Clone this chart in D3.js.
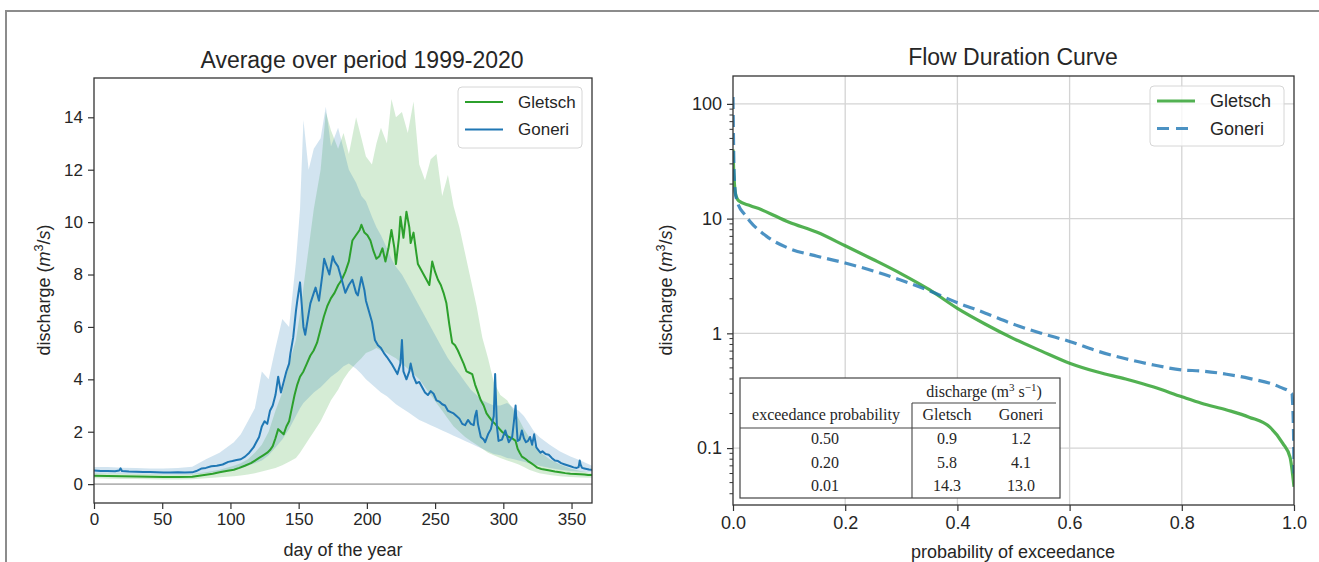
<!DOCTYPE html>
<html>
<head>
<meta charset="utf-8">
<script src="https://cdn.jsdelivr.net/npm/d3@7"></script>
<style>
  body { margin: 0; background: #fff; }
  svg { display: block; }
  text { font-family: "Liberation Sans", Arial, sans-serif; fill: #262626; }
</style>
</head>
<body>
<svg id="chart" width="1319" height="562"></svg>
<script>
// ---- left panel: daily mean discharge (day of year, m3/s) ----
const gletschDays = [0,10,20.5,31,41,51,61.5,72,77,82,87,92,97,102.5,106.5,110.5,115,118,121,124,127,129,131,133,135,137,139,141,143,145,147,149,151,153.5,156,158.5,161,163.5,166,168.5,171,173.7,176.3,179,181.6,184.2,186.8,189.4,192,194.7,196,198.2,200.4,202.6,204.8,207,209.2,211.4,213.6,215.8,218,220.2,221.3,223.5,224.6,226.8,229,231.1,232.1,234.2,236.3,237.4,239.5,241.6,243.7,245.8,247.9,250,252.1,254.2,256.2,258.3,260.4,262.5,264.6,266.7,268.8,270.9,273,275.1,277.2,279.3,281.4,283.5,285.6,287.7,289.8,291.9,294,296.5,299,301.5,304,306.5,309,310.5,312,313.6,315.1,316.6,318.1,320.4,322.6,324.9,327.9,331,334,337.8,341.6,345.4,349.2,353,356.6,359.4,362.2,365];
const gletschMean = [0.32,0.31,0.3,0.29,0.28,0.27,0.27,0.28,0.32,0.36,0.4,0.45,0.5,0.55,0.62,0.7,0.8,0.9,1.0,1.1,1.2,1.3,1.45,1.75,2.1,2.0,1.9,2.2,2.4,2.9,3.4,3.8,4.1,4.3,4.6,4.9,5.1,5.4,5.9,6.4,6.8,7.1,7.3,7.6,7.8,8.1,8.5,9.3,9.5,9.7,9.9,9.6,9.5,9.3,8.9,8.6,8.7,9.0,8.5,9.0,9.7,9.0,8.4,9.4,10.2,9.4,10.4,9.8,9.2,9.6,8.8,8.4,8.2,8.0,7.8,7.6,8.5,8.1,7.8,7.6,7.3,6.9,6.1,5.4,5.3,5.1,4.85,4.6,4.3,4.25,4.2,3.8,3.5,3.2,3.0,2.7,2.55,2.4,2.3,2.15,2.0,1.9,1.8,1.75,1.65,1.35,1.2,1.05,1.0,0.95,0.88,0.8,0.72,0.63,0.58,0.55,0.52,0.48,0.45,0.42,0.4,0.39,0.38,0.37,0.35,0.35];

const goneriDays = [0,5,10,15.4,18.5,19.5,20.5,25.6,31,36,41,46,51,56,61.5,66.6,72,75,79,82,86,90,94.3,98.4,101.5,104.5,107.6,110.7,113.8,116.9,118.9,121,123,125,127,129,131,133,135,137,139,141,143,144,146,148,149,151,153.5,154.8,157.3,158.6,161.1,162.4,164.9,167.4,168.7,171.2,172.5,175,176.3,178.9,181.6,184.2,186.8,189.4,192.1,193.4,196,198.2,199.3,201.5,203.7,205.9,208.1,210.3,212.5,214.7,218,220.2,222.4,224.6,225.7,226.8,229,231.1,232.1,234.2,236.3,238.4,240.5,242.6,244.7,246.8,248.9,251,253.1,255.2,257.3,259.4,261.5,263.6,265.7,267.8,269.9,272,274.1,276.2,278.3,279.3,280.4,281.4,283.5,285.6,286.7,288.8,290.9,293,294,295.3,296.5,299,301.5,304,306.5,307.8,309,309.8,310.5,312,313.6,315.1,316.6,318.1,319.6,321.1,322.6,324.2,325.7,327.2,328.7,331,333.3,335.5,337.8,340.1,342.4,344.6,346.9,349.2,351.5,353.8,355.2,356,356.6,357.7,359.4,361.1,362.8,364.4,365];
const goneriMean = [0.52,0.5,0.5,0.49,0.52,0.6,0.5,0.48,0.47,0.46,0.46,0.45,0.44,0.44,0.45,0.44,0.45,0.5,0.6,0.62,0.68,0.7,0.75,0.85,0.88,0.92,0.95,1.05,1.2,1.4,1.6,1.8,2.2,2.4,2.3,2.8,3.0,3.4,4.1,3.5,3.9,4.3,4.6,5.0,5.6,6.6,7.0,7.7,6.0,5.7,6.5,6.9,7.3,7.5,7.0,8.0,8.6,8.2,8.0,8.7,8.5,8.3,7.8,7.3,7.6,7.8,7.3,7.2,7.9,7.4,7.0,6.6,6.2,5.5,5.3,5.2,5.0,4.85,4.6,4.4,4.2,4.6,5.5,4.3,4.0,4.3,4.6,4.1,3.85,3.9,3.7,3.5,3.4,3.55,3.45,3.2,3.15,3.05,3.0,2.8,2.75,2.7,2.6,2.5,2.3,2.25,2.45,2.3,2.25,2.6,2.8,2.3,1.8,1.7,1.6,1.9,2.1,2.6,4.2,2.2,1.65,1.7,2.05,1.6,1.8,2.4,3.0,2.2,1.65,1.7,2.05,1.75,1.6,1.65,1.8,1.5,1.9,1.4,1.3,1.2,1.25,1.15,1.12,1.0,0.9,0.88,0.8,0.76,0.72,0.68,0.64,0.62,0.65,0.9,0.75,0.62,0.6,0.58,0.56,0.55,0.54];

// spread across years (shaded bands)
const bandDays = [0,10,20.5,31,41,51,61.5,72,82,92,102.5,107.6,112.8,117.9,123,128,133,138,143,148,151,153.5,157.3,161.1,166.1,169.9,173.7,178.9,182.9,186.8,192.1,196,199.3,203.7,207,210.3,214.7,218,221.3,225.7,230,234.2,238.4,242.6,246.8,251,255.2,259.4,263.6,267.8,272,276.2,280.4,284.6,288.8,293,297.8,302.8,307.8,311.3,315.1,318.9,322.6,326.4,334,341.6,349.2,356.6,365];
const gletschLow = [0.22,0.21,0.2,0.2,0.19,0.18,0.18,0.19,0.22,0.26,0.3,0.33,0.37,0.42,0.48,0.55,0.62,0.72,0.85,1.0,1.2,1.4,1.7,2.0,2.4,2.8,3.2,3.6,4.0,4.3,4.6,4.8,5.0,5.1,5.2,5.1,5.0,4.9,4.8,4.6,4.4,4.2,4.0,3.7,3.4,3.1,2.8,2.5,2.2,2.0,1.8,1.65,1.5,1.35,1.2,1.1,1.0,0.9,0.82,0.75,0.65,0.55,0.48,0.42,0.35,0.3,0.27,0.25,0.24];
const gletschHigh = [0.42,0.41,0.4,0.39,0.38,0.37,0.37,0.39,0.45,0.55,0.7,0.8,0.95,1.2,1.5,2.0,2.8,3.5,4.6,5.5,6.5,7.5,9.0,10.5,12.0,14.2,13.5,12.8,13.4,12.6,14.0,13.2,12.5,12.2,13.0,13.6,13.0,14.7,14.0,14.2,13.4,14.6,12.2,11.6,12.4,12.6,11.0,11.8,10.6,9.8,8.8,7.8,6.8,5.6,4.8,3.9,3.4,3.2,2.8,2.5,2.1,1.8,1.5,1.25,0.95,0.75,0.6,0.5,0.42];
const goneriLow = [0.4,0.4,0.39,0.38,0.37,0.36,0.36,0.37,0.42,0.48,0.55,0.6,0.7,0.8,0.9,1.1,1.4,1.7,2.1,2.6,2.9,3.1,3.3,3.5,3.7,3.9,4.1,4.3,4.5,4.6,4.4,4.2,4.0,3.8,3.65,3.5,3.35,3.2,3.05,2.9,2.75,2.6,2.45,2.35,2.25,2.15,2.05,1.95,1.85,1.75,1.65,1.55,1.45,1.35,1.25,1.15,1.1,1.0,0.95,0.9,0.85,0.8,0.75,0.7,0.62,0.55,0.5,0.47,0.44];
const goneriHigh = [0.65,0.65,0.63,0.62,0.6,0.6,0.62,0.66,0.95,1.2,1.6,1.9,2.4,2.9,4.3,4.0,5.2,6.3,6.0,8.5,10.5,13.9,12.0,12.8,13.2,14.4,12.9,13.6,12.8,12.0,11.5,11.0,10.8,10.2,9.8,9.5,9.0,8.6,8.3,8.0,7.6,7.2,6.8,6.4,6.0,5.6,5.2,4.8,4.5,4.2,3.9,3.6,3.4,3.2,3.1,3.0,3.0,3.1,2.9,2.8,2.6,2.3,2.0,1.8,1.5,1.25,1.05,0.9,0.7];

const dayTicks = [0,50,100,150,200,250,300,350];
const dischargeTicks = [0,2,4,6,8,10,12,14];

// ---- right panel: flow duration curves ----
const fdcProbGletsch = [0,0.001,0.002,0.004,0.006,0.01,0.03,0.05,0.1,0.15,0.2,0.25,0.3,0.35,0.4,0.45,0.5,0.55,0.6,0.65,0.7,0.75,0.8,0.835,0.88,0.92,0.957,0.98,0.993,1.0];
const fdcGletsch = [40,28,22,17,15.5,14.3,13.0,12.0,9.3,7.6,5.8,4.4,3.3,2.4,1.65,1.2,0.9,0.7,0.55,0.46,0.4,0.34,0.28,0.246,0.215,0.186,0.152,0.11,0.083,0.046];
const fdcProbGoneri = [0,0.001,0.002,0.004,0.006,0.01,0.02,0.03,0.06,0.1,0.15,0.2,0.25,0.3,0.35,0.4,0.45,0.5,0.55,0.6,0.65,0.7,0.75,0.8,0.835,0.88,0.92,0.975,0.996,0.999,1.0];
const fdcGoneri = [115,45,25,17,15,13.0,11.0,9.5,7.0,5.5,4.7,4.1,3.5,2.9,2.35,1.85,1.5,1.2,1.0,0.85,0.7,0.6,0.53,0.48,0.47,0.44,0.405,0.34,0.3,0.15,0.06];
const probTicks = [0,0.2,0.4,0.6,0.8,1.0];
const logTicks = [0.1,1,10,100];

// ---- table in the right panel ----
const tableProbs = ["0.50","0.20","0.01"];
const tableGletsch = ["0.9","5.8","14.3"];
const tableGoneri = ["1.2","4.1","13.0"];

const seriesNames = ["Gletsch","Goneri"];

const svg = d3.select("#chart");
const ink = "#262626", spine = "#333";

// outer frame of the picture
svg.append("path").attr("d", "M6,562V11H1319")
  .attr("fill", "none").attr("stroke", "#8c8c8c").attr("stroke-width", 2);

function ylabel(x, y, size) {
  const t = svg.append("text").attr("transform", `translate(${x},${y}) rotate(-90)`)
    .attr("text-anchor", "middle").style("font-size", size + "px");
  t.append("tspan").text("discharge (");
  t.append("tspan").text("m").style("font-style", "italic");
  t.append("tspan").text("3").attr("dy", -7).style("font-size", (size * 0.7) + "px");
  t.append("tspan").text("/").attr("dy", 7);
  t.append("tspan").text("s").style("font-style", "italic");
  t.append("tspan").text(")");
}

function legend(x0, y0, w, h, rows, fontSize) {
  const g = svg.append("g");
  g.append("rect").attr("x", x0).attr("y", y0).attr("width", w).attr("height", h)
    .attr("rx", 4).attr("fill", "#fff").attr("fill-opacity", 0.8)
    .attr("stroke", "#d6d6d6").attr("stroke-width", 1);
  rows.forEach((r, i) => {
    const yy = y0 + 15 + i * 27.5;
    g.append("line").attr("x1", x0 + 7).attr("x2", x0 + 45).attr("y1", yy).attr("y2", yy)
      .attr("stroke", r.color).attr("stroke-width", r.width).attr("stroke-opacity", r.opacity || 1)
      .attr("stroke-dasharray", r.dash || null);
    g.append("text").attr("x", x0 + 60).attr("y", yy).attr("dy", "0.35em")
      .style("font-size", fontSize + "px").text(r.name);
  });
}

// =============== LEFT PANEL ===============
const xL = d3.scaleLinear().domain([0, 365]).range([94, 592]);
const yL = d3.scaleLinear().domain([-0.72, 15.5]).range([503, 78]);

svg.append("clipPath").attr("id", "clipL").append("rect")
  .attr("x", 94).attr("y", 78).attr("width", 498).attr("height", 425);
const gL = svg.append("g").attr("clip-path", "url(#clipL)");

gL.append("line").attr("x1", xL(0)).attr("x2", xL(365)).attr("y1", yL(0)).attr("y2", yL(0))
  .attr("stroke", "#b4b4b4").attr("stroke-width", 1.6);

const band = (lo, hi) => d3.area()
  .x((d, i) => xL(bandDays[i])).y0((d, i) => yL(lo[i])).y1((d, i) => yL(hi[i]));
gL.append("path").attr("d", band(gletschLow, gletschHigh)(bandDays))
  .attr("fill", "#2ca02c").attr("fill-opacity", 0.2);
gL.append("path").attr("d", band(goneriLow, goneriHigh)(bandDays))
  .attr("fill", "#1f77b4").attr("fill-opacity", 0.2);

const meanLine = (days) => d3.line().x((d, i) => xL(days[i])).y(d => yL(d));
gL.append("path").attr("d", meanLine(gletschDays)(gletschMean))
  .attr("fill", "none").attr("stroke", "#2ca02c").attr("stroke-width", 2).attr("stroke-linejoin", "round");
gL.append("path").attr("d", meanLine(goneriDays)(goneriMean))
  .attr("fill", "none").attr("stroke", "#1f77b4").attr("stroke-width", 2).attr("stroke-linejoin", "round");

const axL = svg.append("g").attr("transform", "translate(0,503)")
  .call(d3.axisBottom(xL).tickValues(dayTicks).tickSize(6).tickPadding(4));
const ayL = svg.append("g").attr("transform", "translate(94,0)")
  .call(d3.axisLeft(yL).tickValues(dischargeTicks).tickSize(6).tickPadding(5));
[axL, ayL].forEach(a => {
  a.select(".domain").remove();
  a.selectAll("line").attr("stroke", spine).attr("stroke-width", 1.2);
  a.selectAll("text").attr("fill", ink).style("font-size", "17px")
    .style("font-family", '"Liberation Sans", Arial, sans-serif');
});
svg.append("rect").attr("x", 94).attr("y", 78).attr("width", 498).attr("height", 425)
  .attr("fill", "none").attr("stroke", spine).attr("stroke-width", 1.3);

svg.append("text").attr("x", 362).attr("y", 68).attr("text-anchor", "middle")
  .style("font-size", "23px").text("Average over period 1999-2020");
svg.append("text").attr("x", 343).attr("y", 556).attr("text-anchor", "middle")
  .style("font-size", "18px").text("day of the year");
ylabel(50, 290, 18);

legend(458, 87, 124, 61, [
  {name: seriesNames[0], color: "#2ca02c", width: 2},
  {name: seriesNames[1], color: "#1f77b4", width: 2}
], 17);

// =============== RIGHT PANEL ===============
const xR = d3.scaleLinear().domain([0, 1]).range([733, 1294]);
const yR = d3.scaleLog().domain([0.0319, 175]).range([505, 76]);

const gR = svg.append("g");
gR.selectAll(".gx").data(probTicks.slice(1, -1)).enter().append("line")
  .attr("x1", d => xR(d)).attr("x2", d => xR(d)).attr("y1", 76).attr("y2", 505)
  .attr("stroke", "#d4d4d4").attr("stroke-width", 1.3);
gR.selectAll(".gy").data(logTicks).enter().append("line")
  .attr("x1", 733).attr("x2", 1294).attr("y1", d => yR(d)).attr("y2", d => yR(d))
  .attr("stroke", "#d4d4d4").attr("stroke-width", 1.3);

svg.append("clipPath").attr("id", "clipR").append("rect")
  .attr("x", 733).attr("y", 76).attr("width", 561).attr("height", 429);
const gRc = svg.append("g").attr("clip-path", "url(#clipR)");
const fdc = (probs) => d3.line().x((d, i) => xR(probs[i])).y(d => yR(d)).curve(d3.curveMonotoneX);
gRc.append("path").attr("d", fdc(fdcProbGletsch)(fdcGletsch))
  .attr("fill", "none").attr("stroke", "#2ca02c").attr("stroke-opacity", 0.82).attr("stroke-width", 3.2);
gRc.append("path").attr("d", fdc(fdcProbGoneri)(fdcGoneri))
  .attr("fill", "none").attr("stroke", "#1f77b4").attr("stroke-opacity", 0.8).attr("stroke-width", 3.2)
  .attr("stroke-dasharray", "12,6");

// minor log ticks
const minor = [];
[-2, -1, 0, 1, 2].forEach(k => { for (let m = 2; m <= 9; m++) minor.push(m * Math.pow(10, k)); });
svg.append("g").selectAll("line").data(minor.filter(v => v > 0.0319 && v < 175)).enter().append("line")
  .attr("x1", 733).attr("x2", 729.5).attr("y1", d => yR(d)).attr("y2", d => yR(d))
  .attr("stroke", spine).attr("stroke-width", 1);

const axR = svg.append("g").attr("transform", "translate(0,505)")
  .call(d3.axisBottom(xR).tickValues(probTicks).tickFormat(d3.format(".1f")).tickSize(6).tickPadding(5));
const ayR = svg.append("g").attr("transform", "translate(733,0)")
  .call(d3.axisLeft(yR).tickValues(logTicks).tickFormat(d => d < 1 ? d3.format(".1f")(d) : d3.format("d")(d)).tickSize(6).tickPadding(5));
[axR, ayR].forEach(a => {
  a.select(".domain").remove();
  a.selectAll("line").attr("stroke", spine).attr("stroke-width", 1.2);
  a.selectAll("text").attr("fill", ink).style("font-size", "18px")
    .style("font-family", '"Liberation Sans", Arial, sans-serif');
});
svg.append("rect").attr("x", 733).attr("y", 76).attr("width", 561).attr("height", 429)
  .attr("fill", "none").attr("stroke", spine).attr("stroke-width", 1.3);

svg.append("text").attr("x", 1013).attr("y", 65).attr("text-anchor", "middle")
  .style("font-size", "23px").text("Flow Duration Curve");
svg.append("text").attr("x", 1013).attr("y", 558).attr("text-anchor", "middle")
  .style("font-size", "18px").text("probability of exceedance");
ylabel(672, 290, 18);

legend(1150, 86, 134, 60, [
  {name: seriesNames[0], color: "#2ca02c", width: 3.2, opacity: 0.82},
  {name: seriesNames[1], color: "#1f77b4", width: 3.2, opacity: 0.8, dash: "12,7"}
], 18);

// table
const tb = svg.append("g");
tb.append("rect").attr("x", 740).attr("y", 378).attr("width", 320).attr("height", 120)
  .attr("fill", "#fff").attr("stroke", "#444").attr("stroke-width", 1.2);
tb.append("line").attr("x1", 912).attr("x2", 1056).attr("y1", 403).attr("y2", 403).attr("stroke", "#444").attr("stroke-width", 1.1);
tb.append("line").attr("x1", 740).attr("x2", 1060).attr("y1", 428).attr("y2", 428).attr("stroke", "#444").attr("stroke-width", 1.1);
tb.append("line").attr("x1", 912).attr("x2", 912).attr("y1", 403).attr("y2", 498).attr("stroke", "#444").attr("stroke-width", 1.1);
const tt = (x, y, s) => tb.append("text").attr("x", x).attr("y", y).attr("text-anchor", "middle")
  .style("font-family", '"Liberation Serif", "Times New Roman", serif').style("font-size", "16px").text(s);
const hdr = tt(984, 397, "discharge (m");
hdr.append("tspan").text("3").attr("dy", -6).style("font-size", "11px");
hdr.append("tspan").text(" s").attr("dy", 6);
hdr.append("tspan").text("\u22121").attr("dy", -6).style("font-size", "11px");
hdr.append("tspan").text(")").attr("dy", 6);
tt(826, 420, "exceedance probability");
tt(947, 420, seriesNames[0]);
tt(1021, 420, seriesNames[1]);
tableProbs.forEach((p, i) => {
  const yy = 444 + i * 23.5;
  tt(825, yy, p);
  tt(947, yy, tableGletsch[i]);
  tt(1021, yy, tableGoneri[i]);
});
</script>
</body>
</html>
